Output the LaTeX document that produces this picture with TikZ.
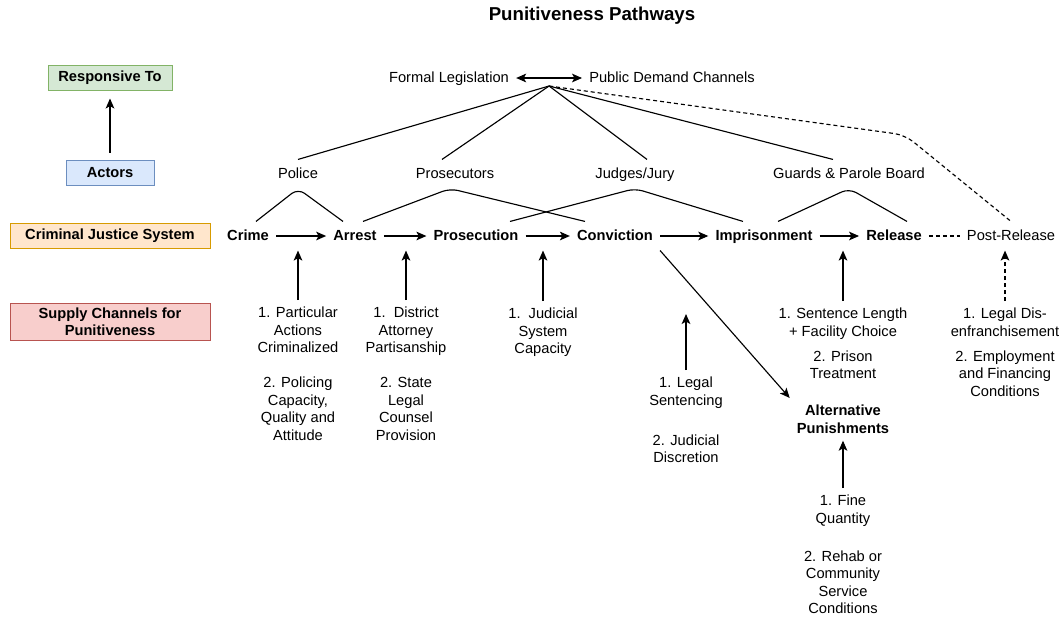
\documentclass[tikz,border=0pt]{standalone}
\usepackage{fontspec}
\setmainfont{Liberation Sans}
\usetikzlibrary{arrows.meta,positioning,calc}
\definecolor{rgreen}{HTML}{D5E8D4}\definecolor{rgreend}{HTML}{82B366}
\definecolor{rblue}{HTML}{DAE8FC}\definecolor{rblued}{HTML}{6C8EBF}
\definecolor{rorange}{HTML}{FFE6CC}\definecolor{roranged}{HTML}{D79B00}
\definecolor{rred}{HTML}{F8CECC}\definecolor{rredd}{HTML}{B85450}

\begin{document}
\begin{tikzpicture}[x=0.75pt,y=-0.75pt,
  font=\fontsize{11}{13.1}\selectfont, line width=0.85pt,
  legend/.style={rectangle, draw, line width=0.75pt, font=\fontsize{11}{13.1}\selectfont\bfseries,
                 align=center, inner sep=2pt},
  stage/.style={font=\fontsize{11}{13.1}\selectfont\bfseries, text height=8pt, text depth=2pt,
                inner xsep=5pt, inner ysep=5.5pt},
  actor/.style={text height=8pt, text depth=2pt, inner xsep=5pt, inner ysep=5.5pt},
  chan/.style={align=center, anchor=north, inner sep=5pt},
  arr/.style={-{Stealth[length=7.5pt,width=6.5pt,inset=1.8pt]}},
  dblarr/.style={{Stealth[length=7.5pt,width=6.5pt,inset=1.8pt]}-{Stealth[length=7.5pt,width=6.5pt,inset=1.8pt]}},
  darr/.style={arr, dash pattern=on 3pt off 2.25pt},
  dline/.style={dash pattern=on 3pt off 2.25pt},
  arch/.style={rounded corners=6pt},
]
  \useasboundingbox (0,0) rectangle (1064,619);
  \node[font=\fontsize{14}{16}\selectfont\bfseries] (title) at (592,16) {Punitiveness Pathways};

  % legend column
  \node[legend, fill=rgreen, draw=rgreend, minimum width=93pt, minimum height=18.75pt] (resp) at (110,77.5) {Responsive To};
  \node[legend, fill=rblue, draw=rblued, minimum width=66pt, minimum height=18.75pt] (actors) at (110,172.5) {Actors};
  \node[legend, fill=rorange, draw=roranged, minimum width=150pt, minimum height=18.75pt] (cjs) at (110,235.5) {Criminal Justice System};
  \node[legend, fill=rred, draw=rredd, minimum width=150pt, minimum height=27.75pt] (supply) at (110,321.5) {Supply Channels for\\Punitiveness};
  \draw[arr, shorten <=5pt, shorten >=6pt] (actors) -- (resp);

  % top
  \node[actor] (formal) at (449,78) {Formal Legislation};
  \node[actor] (public) at (672,78) {Public Demand Channels};
  \draw[dblarr] (formal) -- coordinate (mid) (public);
  \coordinate (hub) at ($(mid)+(0,8)$);

  % actors
  \node[actor] (police) at (298,174) {Police};
  \node[actor] (pros) at (455,174) {Prosecutors};
  \node[actor] (judges) at (635,174) {Judges/Jury};
  \node[actor] (guards) at (849,174) {Guards \& Parole Board};

  % system
  \node[stage] (crime) at (248,236) {Crime};
  \node[stage] (arrest) at (355,236) {Arrest};
  \node[stage] (prosec) at (476,236) {Prosecution};
  \node[stage] (conv) at (615,236) {Conviction};
  \node[stage] (impr) at (764,236) {Imprisonment};
  \node[stage] (release) at (894,236) {Release};
  \node[actor] (post) at (1011,236) {Post-Release};
  \draw[arr] (crime) -- (arrest);
  \draw[arr] (arrest) -- (prosec);
  \draw[arr] (prosec) -- (conv);
  \draw[arr] (conv) -- (impr);
  \draw[arr] (impr) -- (release);
  \draw[dline] (release) -- (post);

  % responsive-to links
  \draw (hub) -- (police.north);
  \draw (hub) -- ($(pros.north)+(-13,0)$);
  \draw (hub) -- ($(judges.north)+(12,0)$);
  \draw (hub) -- ($(guards.north)+(-16,0)$);
  \coordinate (bend) at (905,135);
  \draw[dline, rounded corners=8pt] (hub) -- (bend) -- (post.north);

  % actor arches
  \draw[arch] ($(crime.north)+(8,0)$) -- (police.south) -- ($(arrest.north)+(-12,0)$);
  \draw[arch] ($(arrest.north)+(8,0)$) -- ($(pros.south)+(-5,0)$) -- ($(conv.north)+(-30,0)$);
  \draw[arch] ($(prosec.north)+(34,0)$) -- (judges.south) -- ($(impr.north)+(-21,0)$);
  \draw[arch] ($(impr.north)+(14,0)$) -- (guards.south) -- ($(release.north)+(13,0)$);

  % supply channels
  \node[chan] (sup1) at (298,300) {1. Particular\\Actions\\Criminalized\\[13.1pt]2. Policing\\Capacity,\\Quality and\\Attitude};
  \node[chan] (sup2) at (406,300) {1.\ \ District\\Attorney\\Partisanship\\[13.1pt]2. State\\Legal\\Counsel\\Provision};
  \node[chan] (sup3) at (543,301) {1.\ \ Judicial\\System\\Capacity};
  \node[chan] (sup4) at (686,370) {1. Legal\\Sentencing\\[16.9pt]2. Judicial\\Discretion};
  \node[chan] (sup5) at (843,301) {1. Sentence Length\\+ Facility Choice\\[5.6pt]2. Prison\\Treatment};
  \node[chan] (sup6) at (1005,301) {1. Legal Dis-\\enfranchisement\\[5.6pt]2. Employment\\and Financing\\Conditions};
  \node[chan, font=\fontsize{11}{13.1}\selectfont\bfseries] (alt) at (843,398) {Alternative\\Punishments};
  \node[chan] (altsup) at (843,488) {1. Fine\\Quantity\\[15.4pt]2. Rehab or\\Community\\Service\\Conditions};

  \draw[arr] (sup1.north) -- (sup1.north |- crime.south);
  \draw[arr] (sup2.north) -- (sup2.north |- crime.south);
  \draw[arr] (sup3.north) -- (sup3.north |- crime.south);
  \coordinate (sentend) at ($(sup4.north)+(0,-56)$);
  \draw[arr] (sup4.north) -- (sentend);
  \draw[arr] (sup5.north) -- (sup5.north |- release.south);
  \draw[darr] (sup6.north) -- (sup6.north |- post.south);
  \draw[arr] (conv.south east) -- (alt.north west);
  \draw[arr] (altsup.north) -- (alt.south);
\end{tikzpicture}
\end{document}
